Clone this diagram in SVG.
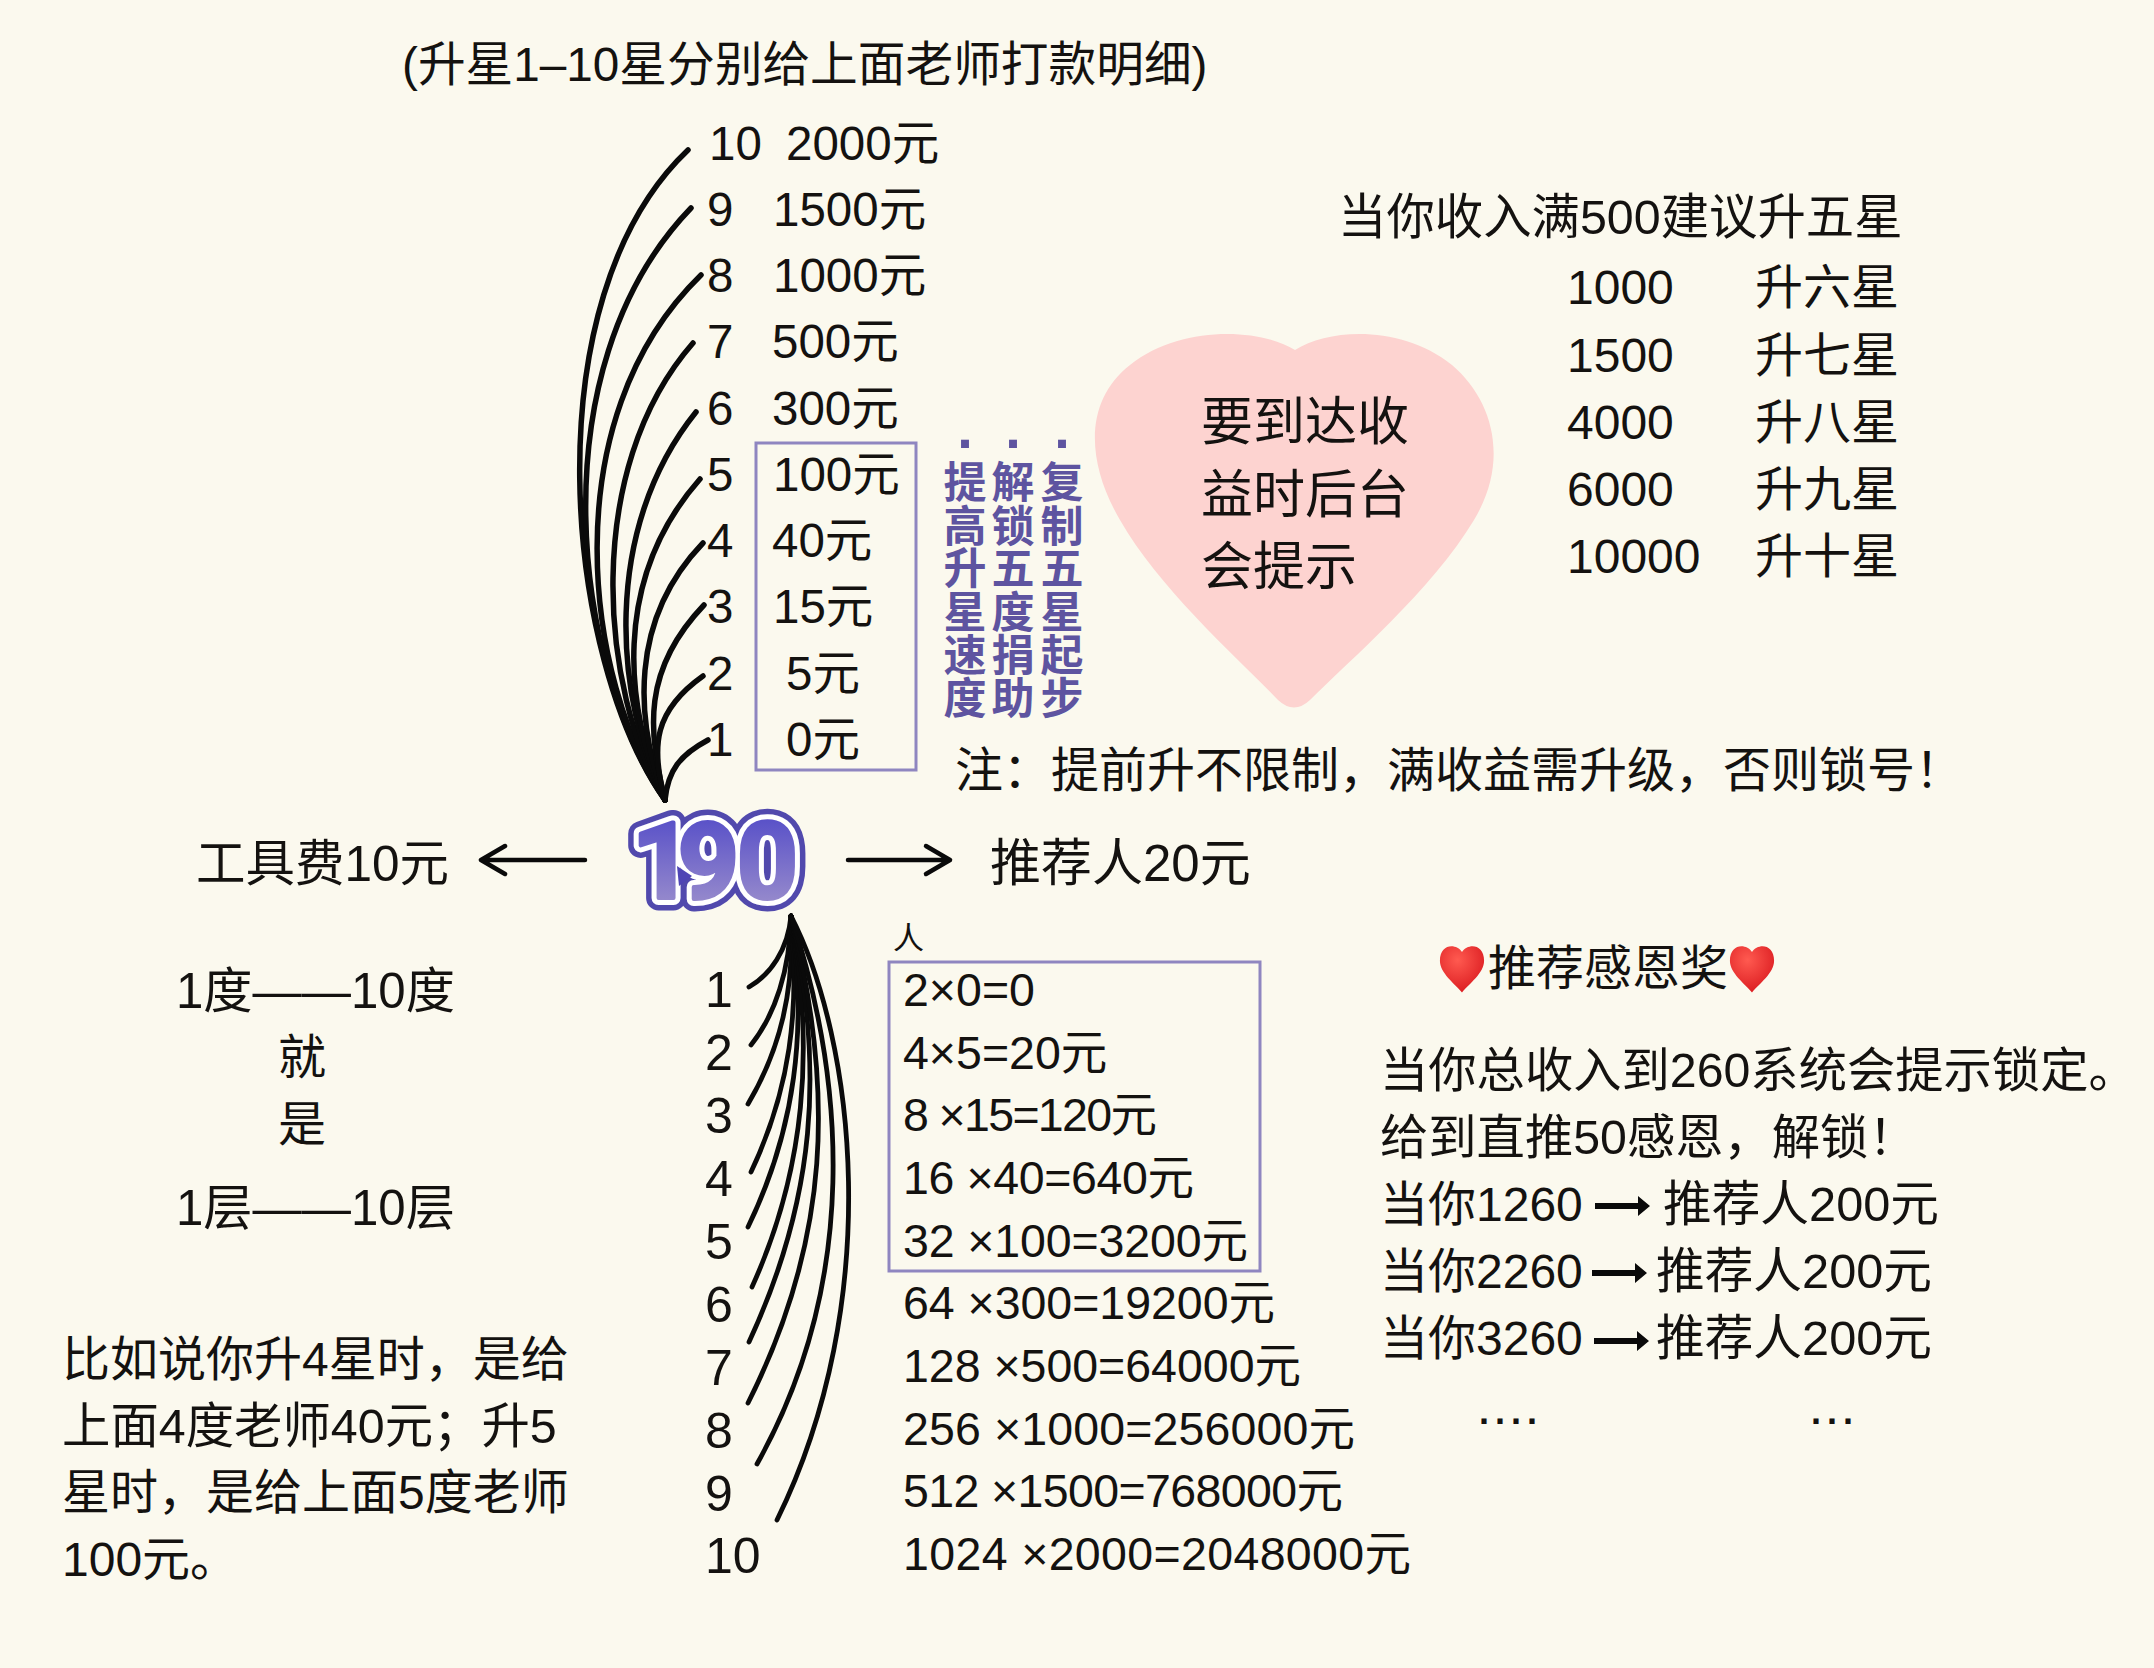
<svg xmlns="http://www.w3.org/2000/svg" xmlns:xlink="http://www.w3.org/1999/xlink" width="2154" height="1668" viewBox="0 0 2154 1668">
<style>
text{font-family:"Liberation Sans","Noto Sans CJK SC",sans-serif;fill:#141210;font-size:48px}
.v{fill:#5e54a0;font-weight:700;font-size:43px;text-anchor:middle;font-family:"Noto Sans CJK SC",sans-serif}
.d{fill:#5e54a0;font-weight:700;font-size:56px;text-anchor:middle}
.u{font-size:47.5px}
.b{font-size:50px}
.r{font-size:46.5px}
.w{font-size:48.7px}
.fan{fill:none;stroke:#0a0a0a;stroke-width:5.5;stroke-linecap:round}
.fd{stroke-width:4.8}
.box{fill:none;stroke:#8f86c0;stroke-width:3}
.arr{fill:none;stroke:#0a0a0a;stroke-width:4.5;stroke-linecap:round;stroke-linejoin:round}
.ba{fill:#0a0a0a;stroke:none}
.n{font-size:106px;font-weight:700;font-family:Roboto,"Liberation Sans",sans-serif;stroke-linejoin:round}
.dots{font-size:36px;font-weight:700;letter-spacing:6px}
</style>
<defs>
<linearGradient id="g190" gradientUnits="userSpaceOnUse" x1="0" y1="820" x2="0" y2="900"><stop offset="0" stop-color="#5a52c8"/><stop offset="1" stop-color="#9488cc"/></linearGradient>
<radialGradient id="gh" cx="0.4" cy="0.3" r="0.8"><stop offset="0" stop-color="#ff5a50"/><stop offset="1" stop-color="#d8161c"/></radialGradient>
<path id="sh" d="M0 -16 C6 -26 24 -26 24 -6 C24 8 8 20 0 30 C-8 20 -24 8 -24 -6 C-24 -26 -6 -26 0 -16 Z" fill="url(#gh)"/>
</defs>
<rect width="2154" height="1668" fill="#fbf9ee"/>

<g id="title"><text x="402" y="81" style="font-size:47.7px">(升星1–10星分别给上面老师打款明细)</text></g>

<g id="connectors">
<g id="fan-up">
<path class="fan" d="M665 800C565 660 530 300 688 150"/>
<path class="fan" d="M665 800C575 670 535 370 691 208"/>
<path class="fan" d="M665 800C585 680 552 420 701 275"/>
<path class="fan" d="M665 800C600 690 582 470 693 343"/>
<path class="fan" d="M665 800C615 700 601 530 696 412"/>
<path class="fan" d="M665 800C625 710 611 580 700 479"/>
<path class="fan" d="M665 800C635 720 629 620 703 543"/>
<path class="fan" d="M665 800C648 730 642 670 704 605"/>
<path class="fan" d="M665 800C650 745 655 710 703 676"/>
<path class="fan" d="M665 800C668 770 680 755 708 740"/>
</g>
<g id="fan-down">
<path class="fan fd" d="M791 916C788 950 770 975 749 987"/>
<path class="fan fd" d="M791 916C790 970 775 1015 751 1045"/>
<path class="fan fd" d="M791 916C795 990 780 1050 748 1104"/>
<path class="fan fd" d="M791 916C800 1010 790 1090 751 1172"/>
<path class="fan fd" d="M791 916C808 1030 795 1130 748 1227"/>
<path class="fan fd" d="M791 916C815 1050 805 1170 752 1287"/>
<path class="fan fd" d="M791 916C825 1070 815 1200 749 1342"/>
<path class="fan fd" d="M791 916C835 1090 830 1240 748 1403"/>
<path class="fan fd" d="M791 916C845 1080 860 1280 757 1464"/>
<path class="fan fd" d="M791 916C855 1040 885 1300 777 1520"/>
</g>
<path class="arr" d="M585 860H481M505 846L481 860L505 874"/>
<path class="arr" d="M848 860H950M926 846L950 860L926 874"/>
<path class="ba" d="M1595 1203H1638V1196L1650 1206L1638 1216V1209H1595Z"/>
<path class="ba" d="M1592 1270H1635V1263L1647 1273L1635 1283V1276H1592Z"/>
<path class="ba" d="M1594 1338H1637V1331L1649 1341L1637 1351V1344H1594Z"/>
</g>

<g id="upper-list">
<text class="u" x="709" y="160">10</text><text class="u" x="786" y="160">2000元</text>
<text class="u" x="707" y="226">9</text><text class="u" x="773" y="226">1500元</text>
<text class="u" x="707" y="292">8</text><text class="u" x="773" y="292">1000元</text>
<text class="u" x="707" y="358">7</text><text class="u" x="772" y="358">500元</text>
<text class="u" x="707" y="425">6</text><text class="u" x="772" y="425">300元</text>
<text class="u" x="707" y="491">5</text><text class="u" x="773" y="491">100元</text>
<text class="u" x="707" y="557">4</text><text class="u" x="772" y="557">40元</text>
<text class="u" x="707" y="623">3</text><text class="u" x="773" y="623">15元</text>
<text class="u" x="707" y="690">2</text><text class="u" x="786" y="690">5元</text>
<text class="u" x="707" y="756">1</text><text class="u" x="786" y="756">0元</text>
<rect class="box" x="756" y="443" width="160" height="327"/>
</g>

<g id="purple-notes">
<text class="d" x="965" y="448">.</text>
<text class="d" x="1013" y="448">.</text>
<text class="d" x="1062" y="448">.</text>
<text class="v"><tspan x="965" y="498">提</tspan><tspan x="965" y="542">高</tspan><tspan x="965" y="584">升</tspan><tspan x="965" y="628">星</tspan><tspan x="965" y="671">速</tspan><tspan x="965" y="714">度</tspan></text>
<text class="v"><tspan x="1013" y="498">解</tspan><tspan x="1013" y="542">锁</tspan><tspan x="1013" y="584">五</tspan><tspan x="1013" y="628">度</tspan><tspan x="1013" y="671">捐</tspan><tspan x="1013" y="714">助</tspan></text>
<text class="v"><tspan x="1062" y="498">复</tspan><tspan x="1062" y="542">制</tspan><tspan x="1062" y="584">五</tspan><tspan x="1062" y="628">星</tspan><tspan x="1062" y="671">起</tspan><tspan x="1062" y="714">步</tspan></text>
</g>

<g id="heart">
<path d="M1295 350C1330 328 1402 325 1452 365C1493 400 1510 460 1474 520C1432 590 1350 660 1310 700Q1294 715 1278 700C1240 660 1160 590 1120 520C1085 460 1085 400 1130 365C1180 325 1260 328 1295 350Z" fill="#fdd3d0"/>
<text x="1201" y="440" style="font-size:52px">要到达收</text>
<text x="1201" y="513" style="font-size:52px">益时后台</text>
<text x="1201" y="585" style="font-size:52px">会提示</text>
</g>

<g id="star-table">
<text x="1338" y="234" style="font-size:48.4px">当你收入满500建议升五星</text>
<text x="1567" y="304">1000</text><text x="1755" y="304">升六星</text>
<text x="1567" y="372">1500</text><text x="1755" y="372">升七星</text>
<text x="1567" y="439">4000</text><text x="1755" y="439">升八星</text>
<text x="1567" y="506">6000</text><text x="1755" y="506">升九星</text>
<text x="1567" y="573">10000</text><text x="1755" y="573">升十星</text>
</g>

<g id="note"><text x="955" y="787">注：提前升不限制，满收益需升级，否则锁号！</text></g>

<g id="center">
<text class="n" x="632 678 737" y="898" stroke="#5149ad" stroke-width="25" style="fill:#5149ad">190</text>
<text class="n" x="632 678 737" y="898" stroke="#fff" stroke-width="14" style="fill:#fff">190</text>
<path d="M677 866L692 876L679 886Z" fill="#4f45b5"/>
<text class="n" x="632 678 737" y="898" stroke="url(#g190)" stroke-width="4" style="fill:url(#g190)">190</text>
</g>

<g id="tool-fee"><text x="196" y="881" style="font-size:49.5px">工具费10元</text></g>
<g id="referrer"><text x="990" y="881" style="font-size:51px">推荐人20元</text></g>

<g id="degree">
<text x="176" y="1008" style="font-size:49.2px">1度——10度</text>
<text x="278" y="1074">就</text>
<text x="278" y="1141">是</text>
<text x="176" y="1225" style="font-size:49.2px">1层——10层</text>
</g>

<g id="example">
<text x="62" y="1376">比如说你升4星时，是给</text>
<text x="62" y="1443" style="font-size:48.4px">上面4度老师40元；升5</text>
<text x="62" y="1509">星时，是给上面5度老师</text>
<text x="62" y="1576">100元。</text>
</g>

<g id="lower-list">
<text class="b" x="705" y="1007">1</text>
<text class="b" x="705" y="1070">2</text>
<text class="b" x="705" y="1133">3</text>
<text class="b" x="705" y="1196">4</text>
<text class="b" x="705" y="1259">5</text>
<text class="b" x="705" y="1322">6</text>
<text class="b" x="705" y="1385">7</text>
<text class="b" x="705" y="1448">8</text>
<text class="b" x="705" y="1511">9</text>
<text class="b" x="705" y="1573">10</text>
</g>

<g id="people-list">
<text x="893" y="949" style="font-size:31px">人</text>
<rect class="box" x="889" y="962" width="371" height="309"/>
<text class="r" x="903" y="1006">2×0=0</text>
<text class="r" x="903" y="1069">4×5=20元</text>
<text class="r" x="903" y="1131" textLength="254">8 ×15=120元</text>
<text class="r" x="903" y="1194" textLength="291">16 ×40=640元</text>
<text class="r" x="903" y="1257" textLength="345">32 ×100=3200元</text>
<text class="r" x="903" y="1319" textLength="372">64 ×300=19200元</text>
<text class="r" x="903" y="1382" textLength="398">128 ×500=64000元</text>
<text class="r" x="903" y="1445" textLength="452">256 ×1000=256000元</text>
<text class="r" x="903" y="1507" textLength="440">512 ×1500=768000元</text>
<text class="r" x="903" y="1570" textLength="508">1024 ×2000=2048000元</text>
</g>

<g id="thanks-award">
<use xlink:href="#sh" href="#sh" transform="translate(1462,966) scale(0.92,0.88)"/>
<use xlink:href="#sh" href="#sh" transform="translate(1752,966) scale(0.92,0.88)"/>
<text x="1488" y="985">推荐感恩奖</text>
<text x="1380" y="1087" style="font-size:48.3px">当你总收入到260系统会提示锁定。</text>
<text x="1380" y="1154" style="font-size:48.3px">给到直推50感恩，解锁！</text>
<text x="1380" y="1221">当你1260</text><text class="w" x="1663" y="1221">推荐人200元</text>
<text x="1380" y="1288">当你2260</text><text class="w" x="1656" y="1288">推荐人200元</text>
<text x="1380" y="1355">当你3260</text><text class="w" x="1656" y="1355">推荐人200元</text>
<text class="dots" x="1479" y="1424">....</text>
<text class="dots" x="1811" y="1424">...</text>
</g>
</svg>
